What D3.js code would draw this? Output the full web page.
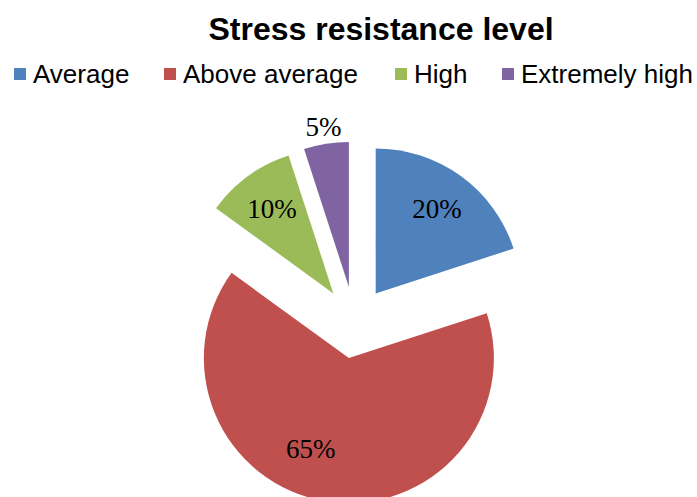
<!DOCTYPE html>
<html>
<head>
<meta charset="utf-8">
<script src="https://cdn.jsdelivr.net/npm/d3@7"></script>
<style>
  body { margin: 0; background: #fff; }
  svg { display: block; }
</style>
</head>
<body>
<svg id="chart" width="697" height="497"></svg>
<script>
// データ
const categories = ["Average", "Above average", "High", "Extremely high"];
const values = [20, 65, 10, 5];
const labels = ["20%", "65%", "10%", "5%"];
const colors = ["#4F81BD", "#C0504D", "#9BBB59", "#8064A2"];

const svg = d3.select("#chart");
const cx = 354.5, cy = 322.5, R = 145, explode = 36;

// タイトル
svg.append("text")
  .attr("x", 381)
  .attr("y", 40)
  .attr("text-anchor", "middle")
  .style("font-family", "'Liberation Sans', Arial, sans-serif")
  .style("font-weight", "bold")
  .style("font-size", "32px")
  .text("Stress resistance level");

// 凡例
const legendX = [14, 164, 395, 502];
const legend = svg.selectAll("g.legend")
  .data(categories)
  .enter()
  .append("g")
  .attr("class", "legend")
  .attr("transform", function(d, i){ return "translate(" + legendX[i] + ",0)"; });
legend.append("rect")
  .attr("x", 0).attr("y", 68)
  .attr("width", 12).attr("height", 12)
  .attr("fill", function(d, i){ return colors[i]; });
legend.append("text")
  .attr("x", 19).attr("y", 83)
  .style("font-family", "'Liberation Sans', Arial, sans-serif")
  .style("font-size", "26px")
  .text(function(d){ return d; });

// パイ
const pie = d3.pie().sort(null).value(function(d){ return d; });
const arcs = pie(values);
const arc = d3.arc().innerRadius(0).outerRadius(R);

function offset(a, dist){
  return [Math.sin(a) * dist, -Math.cos(a) * dist];
}

const slices = svg.selectAll("g.slice")
  .data(arcs)
  .enter()
  .append("g")
  .attr("class", "slice")
  .attr("transform", function(d){
    const m = (d.startAngle + d.endAngle) / 2;
    const o = offset(m, explode);
    return "translate(" + (cx + o[0]) + "," + (cy + o[1]) + ")";
  });

slices.append("path")
  .attr("d", arc)
  .attr("fill", function(d, i){ return colors[i]; });

// ラベル（位置はExcelのベストフィットに合わせて調整）
slices.append("text")
  .attr("transform", function(d, i){
    let m = (d.startAngle + d.endAngle) / 2;
    let dist = R * 0.72;
    if (d.value >= 50) { m += 0.24; dist = R * 0.68; }
    if (d.value <= 5) { dist = R * 1.12; }
    const o = offset(m, dist);
    return "translate(" + o[0] + "," + o[1] + ")";
  })
  .attr("text-anchor", "middle")
  .attr("dy", "0.35em")
  .style("font-family", "'Liberation Serif', Cambria, serif")
  .style("font-size", "27px")
  .text(function(d, i){ return labels[i]; });
</script>
</body>
</html>
